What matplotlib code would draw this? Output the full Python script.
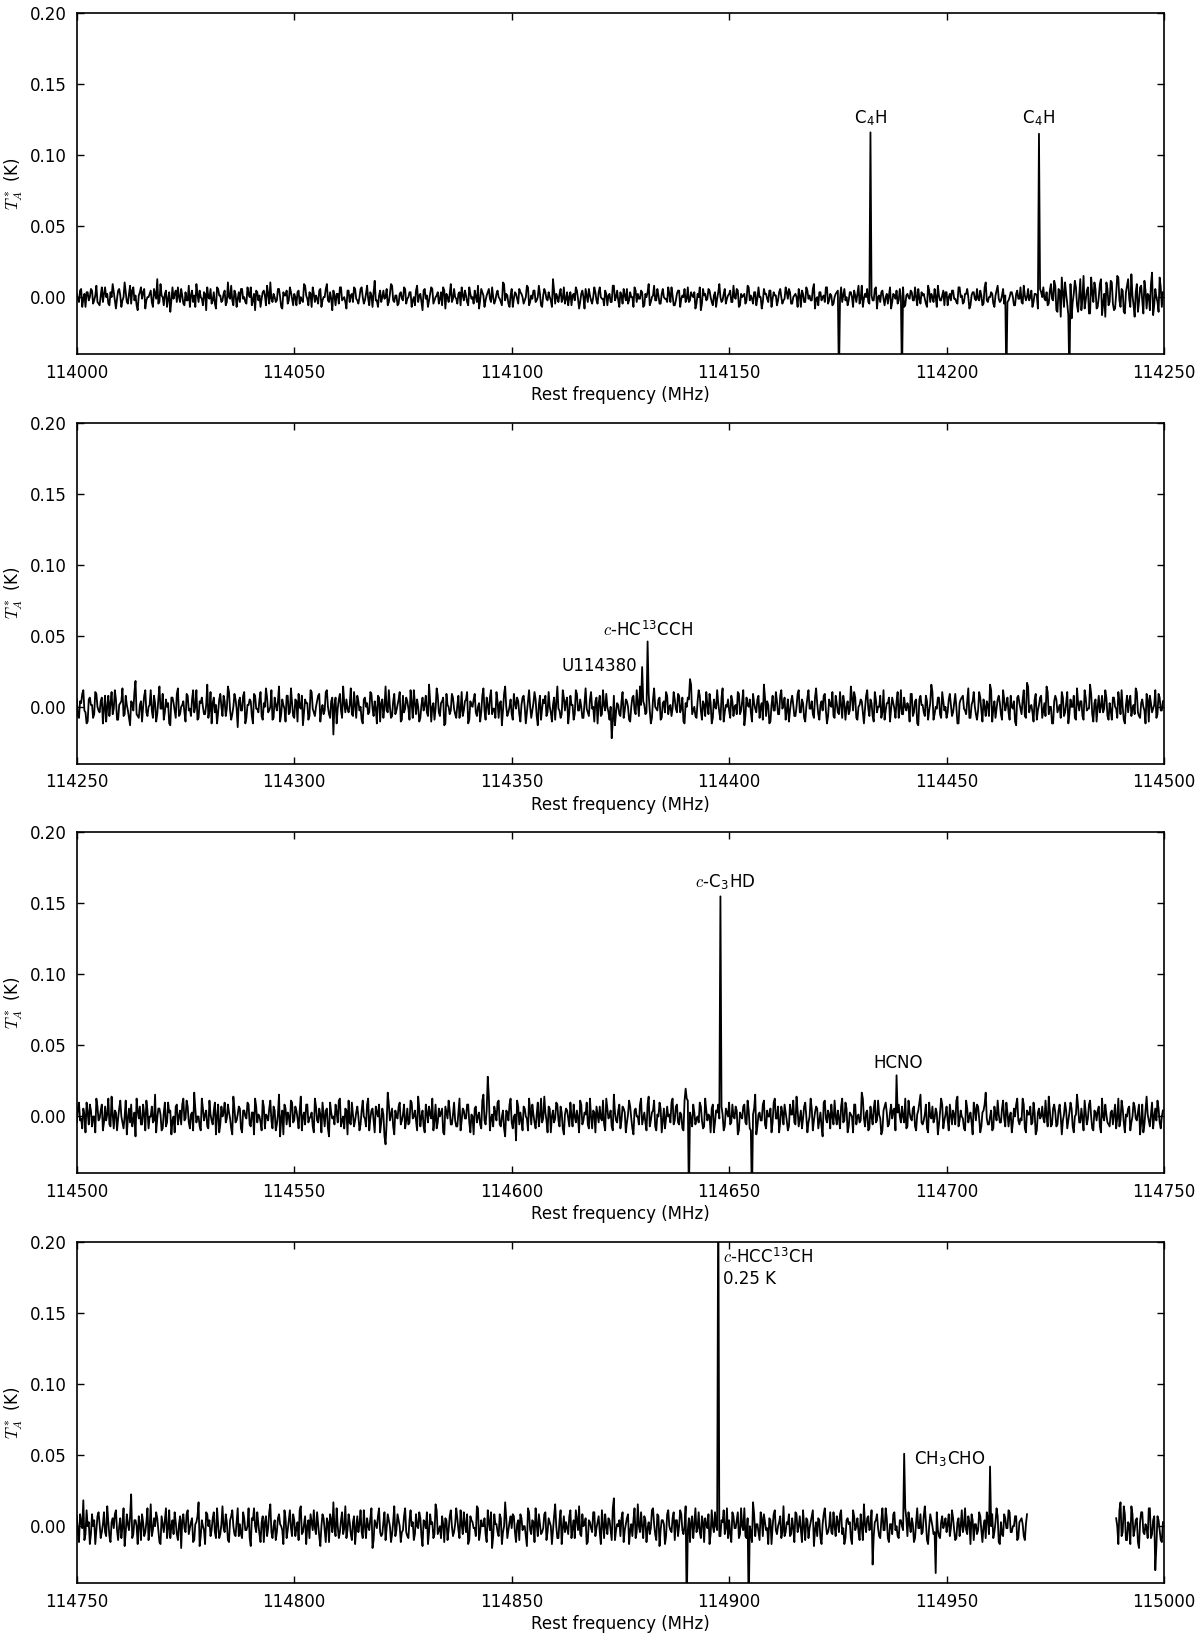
import numpy as np
import matplotlib
matplotlib.use('Agg')
import matplotlib.pyplot as plt

plt.rcParams['font.family'] = ['DejaVu Sans']
plt.rcParams['font.size'] = 12
plt.rcParams['mathtext.fontset'] = 'cm'
plt.rcParams['xtick.direction'] = 'in'
plt.rcParams['ytick.direction'] = 'in'
plt.rcParams['xtick.top'] = True
plt.rcParams['ytick.right'] = True

# channel spacing (MHz) and start of each panel
chan = 0.25
starts = [114000, 114250, 114500, 114750]
# counts -> mK for each panel's noise list
gain = [1.15, 1.3, 1.4, 1.4]

# baseline noise, in counts
# "a" lists = even channels, "b" lists = odd channels
noise1a = [
    2,-3,5,-1,-6,3,0,4,-2,7,-4,1,-3,6,2,-5,0,3,-7,4,1,-2,9,-3,2,
    -4,6,1,-8,3,-1,5,-2,0,4,-6,2,11,-3,1,-5,4,-1,-9,6,2,-3,0,5,-4,
    3,-2,-6,4,1,8,-3,0,-5,2,6,-1,-4,3,-7,5,1,-2,4,-3,0,7,-5,2,-1,
    -3,5,0,-4,2,6,-2,-8,3,1,-1,4,-5,2,9,-3,0,-2,5,-6,3,1,-4,6,-1,
    2,-5,4,0,-3,7,-1,3,-6,2,1,-4,5,-2,0,8,-3,-1,4,-5,2,6,-2,0,-7,
    4,1,-3,5,-2,0,6,-4,2,-1,3,-6,10,-2,1,-3,4,0,-5,2,7,-3,1,-4,3,
    -2,5,-1,3,-6,0,4,-3,2,-8,5,1,-2,6,-4,0,3,-1,-5,4,2,-3,8,-1,0,
    -4,3,6,-2,1,-5,2,0,4,-3,-7,5,1,-2,3,-1,6,-4,2,0,-3,9,-2,1,-6,
    5,-1,2,-4,3,0,-2,7,-5,1,4,-3,0,2,-6,5,-1,3,-2,11,-4,0,2,-3,6,
    -1,-5,3,1,-2,4,-7,2,0,5,-3,1,-4,6,-2,3,0,-1,4,-5,2,-3,7,0,-2,
    3,-4,1,5,-2,0,-6,4,2,-1,3,-5,0,8,-3,1,-2,5,-4,2,0,-1,6,-3,1,
    -5,2,4,-1,0,-3,6,-2,1,3,-4,0,-8,5,2,-1,4,-3,1,-6,3,0,-2,5,-1,
    2,-3,7,-1,4,-5,0,2,-2,6,1,-4,3,-1,0,-7,5,2,-3,4,-1,1,-5,3,0,
    -2,6,-1,3,-4,1,0,5,-6,2,-3,4,1,-2,8,-1,-5,3,0,-3,6,-2,1,-4,2,
    4,-1,-3,5,0,-2,3,-6,1,2,-4,7,-1,0,-3,4,-2,5,-7,1,3,-1,0,-4,6,
    -3,1,4,-2,0,6,-5,2,-1,3,-2,0,5,-4,1,-1,-6,4,2,-3,0,7,-2,1,-5,
    3,0,-2,4,-1,-4,6,1,-3,2,0,-5,3,-1,5,-2,1,-4,9,-3,0,2,-6,4,-1,
    -2,5,1,-3,0,3,-5,2,-1,6,-4,1,0,-2,4,-3,2,-7,5,0,-1,3,-4,8,-2,
    7,-9,4,12,-6,2,-11,8,-3,10,-5,1,-8,13,-2,6,-10,3,9,-7,0,11,-4,-12,5,
    -3,9,-8,2,12,-6,4,-10,7,-1,14,-5,3,-9,6,-2,10,-7,1,8,-11,5,-3,12,-6,
]
noise1b = [
    -1,4,-6,2,3,-2,5,-4,1,-3,-5,6,2,0,-4,3,8,-2,-1,5,-6,0,3,-4,7,
    4,-2,-5,1,6,3,-7,0,2,-3,5,-1,-4,8,0,2,-6,3,-2,-1,4,6,-3,1,-5,
    -2,7,1,-3,-6,2,4,-1,3,-8,0,5,-2,-4,6,1,-3,2,-5,9,-1,-2,4,-6,3,
    5,-1,-3,6,0,-5,2,4,-2,-6,3,1,7,-4,-1,2,-3,5,0,-7,1,4,-2,3,-5,
    0,3,-4,-2,8,1,-5,2,6,-3,-1,4,-6,0,5,-2,3,-8,1,2,-4,6,-1,-3,4,
    -3,2,6,-1,-4,5,0,-2,7,-5,1,3,-2,-6,4,0,-1,5,-3,8,-2,1,-5,2,-1,
    6,-4,0,3,-2,-5,7,1,-3,4,-1,-6,2,5,-2,1,-4,3,6,-7,0,2,-3,5,-1,
    2,-5,1,4,-3,6,-1,-4,0,7,-2,3,-6,1,5,-3,0,-2,4,-1,-5,8,2,-4,1,
    -6,3,-1,5,2,-4,0,6,-3,-1,4,-2,7,-5,1,3,-2,0,-6,4,2,-3,5,-1,-4,
    3,0,-5,2,6,-1,-3,4,-7,1,5,-2,0,3,-4,6,-1,-5,2,1,-3,7,-2,4,-6,
    1,5,-2,-4,3,0,6,-3,-1,4,-6,2,3,-5,0,7,-2,1,-4,5,-1,-3,2,6,-5,
    -2,4,-6,1,5,-1,-3,3,0,-7,2,6,-4,1,-2,5,0,-5,3,-1,8,-3,2,-4,1,
    4,-3,0,5,-6,2,1,-4,7,-2,-1,3,-5,6,0,-3,2,-1,4,-6,3,1,-2,5,-4,
    -1,3,5,-4,0,2,-6,1,4,-3,6,-1,-2,5,-7,0,3,-2,1,6,-4,2,-5,0,3,
    -4,6,1,-2,-5,3,0,4,-3,7,-1,-6,2,5,-4,1,-2,6,0,-3,4,-5,2,1,-7,
    2,-1,-4,5,3,-6,1,0,4,-2,6,-5,-1,3,2,-4,7,-3,0,5,-6,1,-2,4,3,
    -5,2,4,-1,-3,6,0,-4,2,5,-7,1,3,-2,-1,4,-5,6,-2,0,3,-4,1,7,-3,
    1,-4,6,-2,3,0,-5,4,-1,-3,7,-2,5,0,-6,2,1,-4,3,6,-2,-5,4,-1,10,
    -8,5,-12,3,9,-4,7,-13,2,6,-9,11,-1,-7,4,-10,12,-3,5,-6,8,-11,2,9,-5,
    10,-4,-7,13,-2,5,-9,3,11,-6,1,-12,8,-3,7,-10,4,2,-8,15,-5,0,-9,6,3,
]
noise2a = [
    4,-6,2,9,-3,-8,5,1,-4,7,-2,3,-9,6,0,-5,8,-1,4,-7,2,10,-4,1,-6,
    3,-2,14,-5,1,-8,6,-3,0,9,-6,2,-4,11,-1,-7,4,2,-10,5,-2,7,-5,0,3,
    -8,6,-1,4,-3,9,-6,2,0,-4,12,-2,-9,5,1,-3,7,-5,3,-1,8,-7,0,4,-11,
    5,-2,8,-6,1,3,-9,6,-1,4,-5,2,10,-3,0,-7,5,-2,11,-4,1,-8,6,-3,2,
    -6,3,7,-1,-10,4,2,-5,8,-3,0,6,-8,1,-2,9,-4,3,-15,5,-1,7,-6,2,4,
    -3,10,-5,1,6,-2,-7,4,0,-4,8,-1,3,-9,5,2,-6,11,-3,0,-5,7,-2,4,-8,
    6,-1,3,-7,2,9,-4,0,-6,5,1,-3,12,-8,2,-1,6,-5,3,-10,7,0,-2,5,-4,
    1,-6,8,-2,4,-9,3,0,7,-5,2,-3,10,-7,1,5,-4,-1,8,-6,3,-2,11,-5,0,
    -4,7,-1,3,-8,5,0,-3,9,-6,2,4,-10,6,-1,2,-5,8,-3,1,-7,11,-2,-4,5,
    3,-9,6,1,-4,7,-2,0,-6,10,-3,4,-1,-8,5,2,-5,9,-2,0,-7,-17,6,-3,1,
    -5,8,-2,3,-7,0,6,-4,2,11,-6,1,-3,7,-9,4,0,-2,5,-6,3,8,-4,1,-1,
    4,-3,6,-1,-8,2,5,15,-4,0,-6,9,-2,3,-5,1,7,-9,4,-1,2,-7,10,-3,0,
    -2,6,-5,1,8,-4,3,-10,5,0,-3,7,-1,4,-6,2,12,-5,1,-8,6,-2,3,-4,9,
    1,-7,4,-2,6,-5,0,9,-3,2,-8,5,-1,3,-6,10,-4,1,-2,7,-9,4,0,-5,6,
    -3,8,-6,2,0,-4,11,-2,5,-7,1,3,-9,6,-1,4,-5,8,-3,0,-6,9,-2,2,-8,
    5,-1,3,-6,9,-4,0,2,-8,7,-3,4,-10,6,1,-5,3,-2,12,-7,0,5,-4,8,-2,
    -6,4,1,-3,7,-9,2,5,-1,-4,10,-6,3,0,-7,8,-2,4,-5,1,12,-8,3,-1,6,
    -4,9,-2,5,-7,0,3,-10,6,-1,4,-5,13,-3,1,-8,7,-2,5,-6,2,11,-4,0,-9,
    6,-3,1,8,-5,2,-9,4,0,-6,10,-2,3,-7,5,-1,12,-4,2,-8,6,0,-3,9,-5,
    2,-7,5,-1,8,-4,0,-9,6,3,-5,1,10,-3,-6,4,-2,7,-8,2,-1,9,-4,5,-2,
]
noise2b = [
    -5,3,7,-2,-9,4,1,-6,8,0,-3,5,-1,-8,6,2,-4,9,-7,1,3,-5,6,-2,-10,
    2,8,-4,-6,3,0,9,-5,1,-2,6,-8,4,-1,7,-3,0,-9,5,2,-6,10,-4,1,-3,
    7,-2,-5,9,0,-7,3,5,-4,1,-6,8,2,-3,-9,4,0,6,-5,11,-2,-4,7,-1,3,
    -2,6,-9,1,4,-5,7,-1,-3,8,-7,0,5,-2,9,-6,1,3,-8,4,-1,6,-4,10,-5,
    4,-8,0,6,-3,2,-7,9,-1,-5,3,7,-2,-4,8,0,-6,5,1,-9,4,-2,11,-3,-1,
    1,-4,8,-6,3,0,-9,5,2,-3,7,-5,-1,6,-8,4,0,-2,9,-6,3,-4,1,8,-7,
    -3,5,-1,9,-6,2,4,-8,1,-2,6,-5,3,0,-7,10,-3,2,5,-9,1,-4,7,-1,-6,
    6,-2,-5,3,8,-7,1,4,-3,0,-8,6,-2,5,-4,9,-1,-6,3,2,-10,7,0,-3,4,
    -7,2,5,-4,1,6,-9,3,0,-2,8,-5,1,-7,4,6,-3,0,-8,5,2,-1,-6,9,-2,
    5,-3,1,-7,9,-2,4,-6,2,-1,-5,8,0,3,-9,6,-4,1,7,-3,0,-8,-10,2,-4,
    3,-6,4,0,-8,5,-2,9,-5,1,3,-4,7,-2,-6,10,-1,4,-7,2,-3,6,0,-5,8,
    -1,7,-3,5,-9,0,4,12,-2,-5,3,6,-7,1,8,-4,2,-6,0,9,-3,5,-8,1,4,
    -6,3,0,-4,7,-2,9,-5,1,4,-8,2,-3,6,0,-7,5,3,-9,1,-2,8,-4,6,-1,
    5,-2,-8,3,1,-5,7,-3,4,-6,0,9,-1,-4,5,2,-7,3,6,-2,-5,1,8,-6,2,
    -4,1,6,-7,3,-2,5,8,-6,0,4,-3,-1,9,-5,2,-8,4,0,6,-3,-7,2,5,-1,
    2,-6,8,-1,-4,5,-2,0,7,-5,3,-9,4,1,-3,6,-7,2,8,-4,-1,5,-6,3,0,
    -3,7,-5,2,0,-9,4,6,-2,3,-6,1,8,-4,-2,5,-8,0,3,-5,9,-1,-6,4,2,
    -7,4,1,-3,6,-1,-8,5,2,-4,9,-6,11,0,-3,4,-7,1,6,-2,-5,8,0,-9,3,
    4,-1,-6,5,-3,8,-4,0,6,-7,2,3,-5,9,-2,-1,7,-8,4,0,-3,6,-1,5,-7,
    -2,5,0,-6,3,9,-7,1,-3,6,-1,-4,8,-5,2,0,-9,4,6,-3,1,-6,7,-2,3,
]
noise3a = [
    -3,7,-1,4,-8,2,6,-5,0,9,-2,3,-7,5,1,-4,10,-6,2,-1,8,-3,0,-9,4,
    6,-2,-10,3,5,-4,1,8,-6,0,-3,11,-1,4,-7,2,-5,7,3,-2,-8,6,0,-4,9,
    -1,5,-6,2,12,-3,0,-7,4,1,-5,8,-2,3,-9,6,-4,0,7,-1,2,-6,10,-3,1,
    4,-8,3,-1,6,-5,2,9,-3,0,-7,5,1,-2,8,-6,3,-4,11,-1,-9,4,2,-5,7,
    -2,3,-6,10,0,-4,6,-1,2,-8,5,-3,1,7,-5,4,-10,2,0,6,-3,9,-2,-6,3,
    8,-4,1,-2,5,-7,3,0,-5,9,-1,4,-8,2,6,-3,1,-14,12,-2,4,-9,0,5,-4,
    1,-6,4,-3,7,0,-2,10,-5,3,-8,2,5,-1,-7,6,-3,0,4,-9,2,8,-4,1,-2,
    -5,9,-2,3,-1,6,-8,0,4,-3,2,-6,11,-4,20,-7,1,5,-2,8,-5,3,-10,2,6,
    -3,0,-12,5,2,-7,4,-1,9,-4,1,-6,7,0,-3,10,-2,5,-8,3,-1,6,-5,2,-9,
    4,-1,7,-5,0,3,-8,6,-2,1,-4,9,-6,2,5,-3,-1,8,-7,4,0,-5,11,-2,3,
    -6,5,2,-3,8,-1,-9,4,0,6,-4,2,-7,10,-2,3,-5,1,7,-8,4,-1,0,-3,9,
    -2,6,-4,1,-7,14,8,2,-5,2,-1,-3,5,-6,9,-2,0,4,-8,3,6,-4,1,-5,2,
    7,-3,0,5,-9,2,-1,6,-4,3,-7,1,11,-5,2,-2,8,-6,0,4,-3,9,-1,-8,5,
    -4,2,-7,6,1,-3,10,-5,3,-1,7,-8,0,4,-2,5,-6,2,-10,8,-3,1,6,-4,0,
    3,-6,9,-2,4,-5,1,-8,6,0,-3,12,-1,2,-7,5,-4,8,-2,1,-9,3,7,-5,2,
    -1,4,-8,6,-3,0,9,-5,2,-2,5,-7,3,11,-4,1,-6,7,-1,-3,4,-9,2,6,-2,
    5,-7,1,3,-4,10,-2,0,-6,8,-3,2,-9,4,6,-1,-5,3,12,-4,0,-7,5,-2,1,
    -3,8,-5,2,0,-8,4,6,-2,-1,9,-6,3,1,-4,7,-9,2,-1,5,-3,0,10,-5,4,
    2,-4,6,-9,1,3,-2,7,-5,0,11,-3,4,-7,2,-1,8,-6,3,-2,5,-8,0,6,-3,
    -5,3,1,-6,9,-2,4,-8,0,5,-3,7,-1,2,-9,6,-4,10,-2,1,-6,4,8,-3,0,
]
noise3b = [
    4,-2,-6,1,7,-4,3,0,-8,5,-1,6,-3,-2,9,-5,1,3,-7,4,0,-6,8,-1,-3,
    -5,2,9,-1,-4,6,-7,3,0,5,-2,-8,4,1,-6,7,-3,2,-9,0,5,-4,3,6,-2,
    8,-3,1,-7,4,0,-5,9,-2,3,-6,1,-4,7,0,-8,5,2,-3,6,-1,-9,4,-2,5,
    -6,3,0,7,-4,2,-9,5,1,-3,8,-6,0,4,-2,5,-7,1,-10,3,6,-4,0,8,-3,
    5,-1,3,-7,2,6,-3,0,-5,9,-2,4,-8,1,3,-6,7,-1,-4,2,8,-5,0,4,-9,
    -3,7,-5,2,0,-4,8,-1,6,-7,3,-2,5,0,-8,4,-10,-3,6,1,-5,3,-1,7,-2,
    6,-2,-4,8,-1,3,-7,4,0,-5,6,-3,1,9,-2,-6,4,2,-8,5,-1,3,-4,7,-5,
    2,-7,4,-1,6,-3,1,-9,5,0,-4,8,-2,3,10,-1,-5,2,7,-4,0,-6,3,-2,9,
    -6,1,8,-4,-2,5,0,-7,3,6,-3,1,-5,9,-1,2,-8,4,0,-3,7,-2,5,-6,1,
    3,-5,0,6,-3,-1,8,-4,2,7,-6,0,3,-8,1,5,-2,-4,9,-1,3,-7,2,-3,6,
    -2,4,-8,1,5,-6,3,0,-4,9,-1,-3,6,-5,2,8,-7,0,4,-2,-6,5,1,7,-4,
    5,-3,2,-6,8,9,-3,-1,6,-4,0,7,-2,-5,3,1,-8,6,-3,2,-1,5,-7,4,0,
    -4,6,-1,3,-7,0,5,-3,8,-6,2,4,-9,1,-2,6,-4,3,0,-8,7,-1,5,-3,2,
    6,-2,-5,1,8,-4,3,-1,-6,5,0,-3,9,-7,2,4,-2,-5,7,-1,3,-6,0,8,-4,
    -1,5,-3,7,-8,2,0,6,-4,1,-2,9,-5,3,-6,0,4,-3,8,-1,-7,5,2,-4,6,
    3,-7,2,0,5,-3,-6,8,-1,4,-5,1,7,-3,-2,6,-8,0,5,-1,2,-4,9,-6,1,
    -2,6,-4,1,8,-5,3,-1,-7,4,0,-3,7,-2,5,-8,2,6,-1,-4,3,-6,1,8,-3,
    4,-1,7,-5,2,-3,0,9,-4,-2,6,-8,1,5,-3,2,-7,4,0,-1,8,-5,3,-4,6,
    -5,3,0,-2,7,-6,2,4,-8,1,5,-3,-1,8,-4,6,0,-7,2,3,-5,9,-2,1,-4,
    2,-4,6,-1,-5,8,-3,1,4,-7,0,5,-2,6,-3,-8,3,1,-5,7,0,-2,4,-6,3,
]
noise4a = [
    5,-8,2,13,-4,0,-9,6,3,-2,7,-6,1,-3,10,-5,2,-1,8,-7,4,0,-10,6,-2,
    16,-4,3,-9,1,6,-5,2,-7,11,-2,0,4,-8,5,-3,9,-1,-6,3,7,-4,1,-11,6,
    -3,8,-1,4,-7,2,12,-5,0,-9,6,3,-2,7,-6,1,-4,10,-3,2,-8,5,0,-5,9,
    1,-6,4,-2,9,-10,3,0,7,-4,2,-8,5,-1,11,-6,3,-3,6,0,-9,4,-2,8,-5,
    3,-1,-7,10,-3,5,0,-6,2,8,-4,1,-10,6,-2,4,-8,3,12,-5,0,-3,7,-1,-6,
    6,-4,2,-9,5,1,-3,8,-6,0,4,-11,3,-1,9,-5,2,-7,6,0,-4,10,-2,3,-8,
    -2,9,-5,3,0,-7,6,-1,4,-10,2,7,-3,1,-6,11,-4,0,5,-8,3,-2,8,-5,1,
    4,-6,1,7,-3,-9,5,2,-1,10,-7,3,0,-4,8,-2,-11,6,1,-5,4,-3,12,-6,2,
    -1,5,-8,3,6,-2,0,-10,7,-4,2,9,-5,1,-3,6,-7,4,0,-2,11,-6,3,-9,5,
    2,-4,8,-1,-6,3,10,-5,0,4,-8,2,-3,7,-1,5,-9,1,6,-4,3,-7,14,-2,0,
    -5,7,-2,4,-9,1,3,-6,11,-3,0,5,-8,2,-1,9,-4,6,-10,3,1,-5,8,-2,4,
    -7,3,0,6,-4,10,-2,-8,5,1,-3,7,-6,2,4,-1,-9,8,-3,0,6,-5,2,-4,9,
    3,-8,5,-1,7,-4,0,9,-6,2,-3,12,-5,1,-7,4,6,-2,-9,3,0,8,-4,2,-6,
    10,-3,1,-5,4,-8,6,0,-2,8,-7,3,-1,5,-10,2,4,-6,1,9,-4,0,-3,7,-5,
    2,6,-4,-9,3,1,-6,8,-2,4,-7,0,11,-3,5,-1,-8,2,6,-5,3,-2,9,-6,1,
    -4,7,0,-6,3,-2,9,-5,1,4,-8,2,-1,6,-3,10,-7,0,3,-4,8,-2,-6,5,1,
    -3,6,-1,4,-7,2,-5,8,0,-2,5,-9,3,1,-4,7,-2,0,-6,4,-1,6,-3,9,-8,
    2,-5,4,-1,7,-3,0,5,-6,3,1,-7,6,-2,4,-4,9,-1,3,-8,5,0,-3,7,-2,
    0,0,0,0,0,0,0,0,0,0,0,0,0,0,0,0,0,0,0,0,0,0,0,0,0,
    0,0,0,4,-9,12,-3,6,-7,1,10,-5,3,-8,2,7,-4,-1,9,-6,3,-12,5,-2,-8,
]
noise4b = [
    -3,6,-1,-7,8,2,-4,0,-9,5,1,-3,7,-5,2,-8,4,6,-2,0,-6,9,-3,1,5,
    -6,3,0,5,-7,2,-3,9,-1,-5,4,7,-2,-9,1,3,-6,8,0,-4,2,-7,5,3,-1,
    6,-4,2,-8,1,5,-10,3,-2,7,0,-5,4,-3,9,-6,1,-1,6,-7,3,8,-4,2,-5,
    -4,7,-2,0,-6,4,9,-3,1,-8,5,2,-5,7,-3,0,-7,4,1,-2,8,-6,3,-1,6,
    -5,2,8,-4,1,-9,3,6,-2,-1,7,-5,0,4,-8,2,6,-3,-1,9,-6,3,-4,10,-2,
    2,-7,5,-1,-3,8,-6,0,4,-2,9,-7,1,5,-3,-4,7,-1,3,-8,2,-5,6,0,-3,
    5,-3,-6,8,2,-4,0,7,-5,3,-1,-9,6,2,-4,8,-2,-6,1,4,-7,5,0,-3,9,
    -2,8,-4,1,6,-7,3,-1,-5,9,-3,0,4,-8,2,7,-5,1,-3,6,-9,0,4,-2,5,
    6,-3,1,-7,4,0,-5,9,-2,3,-8,1,6,-4,-1,7,-3,2,-9,5,0,-6,8,-1,-3,
    -1,5,-6,3,8,-2,-4,6,1,-9,3,-1,7,-5,2,-3,8,-6,0,4,-2,9,-7,1,3,
    4,-8,1,6,-2,-5,9,-3,0,7,-6,3,-1,-4,8,1,-7,5,-2,3,-9,6,0,-3,7,
    3,-5,8,-2,0,-7,4,2,-6,9,-1,-3,5,-8,1,6,-4,0,7,-2,-5,3,8,-1,-6,
    -4,7,-1,3,-6,9,-2,-5,4,0,-8,6,1,-3,7,-5,2,-1,4,-9,6,-2,0,5,-3,
    -5,2,6,-4,-1,7,-3,5,-8,0,4,-6,2,8,-2,-5,3,-9,6,1,-3,7,-4,0,5,
    -3,8,-1,-6,4,2,-9,5,0,-3,6,-7,1,4,-2,8,-5,3,-1,-6,9,-2,4,-8,1,
    6,-2,-5,3,0,-8,4,7,-3,1,-6,9,-1,-4,5,2,-9,6,0,-3,7,-5,2,-1,4,
    1,-5,8,-2,-6,4,0,-3,9,-4,2,6,-7,1,-2,5,-8,3,7,-4,0,-6,2,5,-9,
    -4,6,-1,8,-3,0,5,-7,2,4,-5,1,-8,6,-2,3,9,-4,0,-6,2,7,-5,1,-3,
    0,0,0,0,0,0,0,0,0,0,0,0,0,0,0,0,0,0,0,0,0,0,0,0,0,
    0,0,0,0,8,-5,10,-7,2,-9,6,-2,4,-11,7,-3,1,-6,9,-4,5,-10,3,-7,2,
]
noise = [(noise1a, noise1b), (noise2a, noise2b), (noise3a, noise3b), (noise4a, noise4b)]

# single-channel features: lines and frequency-switching ghosts (K)
line_freq = [
    [114182.5, 114221.2, 114175.3, 114189.7, 114213.8, 114228.2],
    [114380.0, 114381.3],
    [114648.0, 114640.8, 114655.3, 114688.4],
    [114897.4, 114890.3, 114904.6, 114940.2, 114960.0, 114933.0, 114947.4, 114998.0],
]
line_int = [
    [0.116, 0.115, -0.06, -0.06, -0.06, -0.06],
    [0.028, 0.046],
    [0.155, -0.06, -0.06, 0.029],
    [0.25, -0.06, -0.06, 0.051, 0.042, -0.027, -0.033, -0.031],
]
# band with no data in the last panel
gap = (114968.7, 114988.9)

# labels: text, x, y, ha, va
labels = [
    [(r'C$_\mathregular{4}$H', 114182.5, 0.119, 'center', 'bottom'),
     (r'C$_\mathregular{4}$H', 114221.2, 0.119, 'center', 'bottom')],
    [('U114380', 114378.9, 0.029, 'right', 'center'),
     (r'$c$-HC$^\mathregular{13}$CCH', 114381.3, 0.047, 'center', 'bottom')],
    [(r'$c$-C$_\mathregular{3}$HD', 114649.0, 0.158, 'center', 'bottom'),
     ('HCNO', 114688.8, 0.031, 'center', 'bottom')],
    [('$c$-HCC$^\\mathregular{13}$CH\n0.25 K', 114898.5, 0.196, 'left', 'top'),
     (r'CH$_\mathregular{3}$CHO', 114942.5, 0.047, 'left', 'center')],
]

fig, axes = plt.subplots(4, 1, figsize=(12, 16.37), dpi=100)
fig.subplots_adjust(left=0.064, right=0.970, top=0.992, bottom=0.033, hspace=0.202)

for k in range(4):
    ax = axes[k]
    ev, od = noise[k]
    temp = np.empty(len(ev) + len(od))
    temp[0::2] = ev
    temp[1::2] = od
    temp = temp * gain[k] / 1000.0
    freq = starts[k] + chan * np.arange(len(temp))
    for f, t in zip(line_freq[k], line_int[k]):
        temp[int(round((f - starts[k]) / chan))] = t
    if k == 3:
        temp[(freq > gap[0]) & (freq < gap[1])] = np.nan
    ax.plot(freq, temp, color='black', lw=1.3)
    for txt, x, y, ha, va in labels[k]:
        ax.text(x, y, txt, ha=ha, va=va, fontsize=12)
    ax.set_xlim(starts[k], starts[k] + 250)
    ax.set_ylim(-0.04, 0.20)
    ax.set_xticks(np.arange(starts[k], starts[k] + 251, 50))
    ax.set_yticks([0.0, 0.05, 0.10, 0.15, 0.20])
    ax.yaxis.set_major_formatter(matplotlib.ticker.FormatStrFormatter('%.2f'))
    ax.xaxis.set_major_formatter(matplotlib.ticker.FormatStrFormatter('%d'))
    ax.tick_params(length=5, width=1, pad=7)
    for s in ax.spines.values():
        s.set_linewidth(1.2)
    ax.set_xlabel('Rest frequency (MHz)', labelpad=3)
    ax.set_ylabel(r'$T_A^*$ (K)')

fig.savefig('out.png', dpi=100)
